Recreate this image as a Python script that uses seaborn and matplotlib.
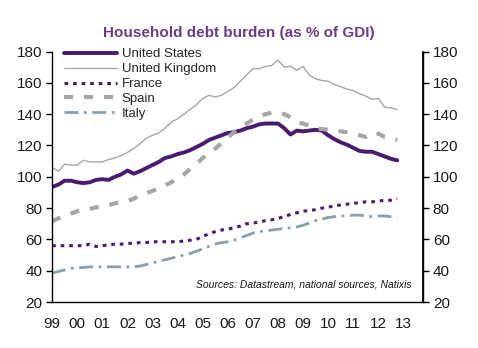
import numpy as np
import pandas as pd
import matplotlib
matplotlib.use("Agg")
import matplotlib.pyplot as plt
import seaborn as sns

title = "Household debt burden (as % of GDI)"
source = "Sources: Datastream, national sources, Natixis"
series_names = ["United States", "United Kingdom", "France", "Spain", "Italy"]
year_ticks = list(range(1999, 2014))
year_labels = ["99", "00", "01", "02", "03", "04", "05", "06", "07", "08", "09", "10", "11", "12", "13"]
y_ticks = [20, 40, 60, 80, 100, 120, 140, 160, 180]

# quarterly, 1999Q1 .. 2012Q4
quarters = [1999 + q / 4 for q in range(56)]

us = [93.5, 95, 97.5, 97.5, 96.5, 96, 96.5, 98, 98.5, 98, 100, 101.5,
      104, 102, 103.5, 105.5, 107.5, 109.5, 112, 113, 114.5, 115.5, 117, 119,
      121, 123.5, 125, 126.5, 128, 128.5, 129.5, 131, 132, 133.5, 134, 134,
      134, 131, 127, 129.5, 129, 129.5, 130, 129.5, 126.5, 124, 122, 120.5,
      118.5, 116.5, 116, 116, 114.5, 113, 111.5, 110.5]
uk = [106, 103.5, 108, 107.5, 107.5, 110.5, 109.5, 109.5, 109.5, 111, 112, 113.5,
      115.5, 118, 121, 124.5, 126.5, 128, 131, 135, 137, 140, 143, 146,
      150, 152, 151, 152, 154.5, 157, 161, 165, 169, 169, 170.5, 171,
      174.5, 170, 170.5, 168, 170.5, 165, 162.5, 161.5, 161, 159, 157.5, 156,
      155, 153, 151.5, 149.5, 150, 144.5, 144, 143]
france = [56, 56, 56, 56, 56, 56, 57, 55.5, 56, 56.5, 57, 57,
          57.5, 57.5, 58, 58, 58.5, 58.5, 58.5, 58.5, 58.5, 59, 59.5, 60,
          62, 63.5, 65, 66, 66.5, 67.5, 68.5, 70, 70.5, 71, 72, 72.5,
          73.5, 74.5, 76, 77, 78, 78.5, 79, 80, 80.5, 81.5, 82, 82.5,
          83, 83.5, 84, 84, 84.5, 85, 85, 86]
spain = [71.5, 73.5, 75, 76.5, 78, 79, 79.5, 80.5, 81, 82, 83, 84,
         84.5, 86, 88, 89.5, 91, 92.5, 94.5, 96.5, 99, 101.5, 105, 108,
         112, 115, 118, 121.5, 125, 128.5, 131.5, 134, 136.5, 138.5, 140, 141,
         141, 140, 138, 135, 134, 132.5, 131, 130.5, 130, 129.5, 129, 128.5,
         128, 126.5, 125.5, 128, 127.5, 125.5, 125, 123.5]
italy = [38.5, 39.5, 40.5, 41.5, 42, 42, 42.5, 42.5, 42.5, 42.5, 42.5, 42.5,
         42.5, 42.5, 43, 44, 45, 46, 47, 48, 49, 50, 51, 52.5,
         54, 55.5, 57, 58, 58.5, 59.5, 61, 62.5, 64, 65, 65.5, 66,
         66.5, 67, 67.5, 68, 69, 70.5, 72, 73, 74, 74.5, 75, 75,
         75.5, 75.5, 75, 74.5, 75, 75, 74.5, 74.5]

values = [us, uk, france, spain, italy]
df = pd.DataFrame({
    "t": np.tile(quarters, len(series_names)),
    "v": np.concatenate(values),
    "country": np.repeat(series_names, len(quarters)),
})

sns.set_theme(style="white")
plt.rcParams["font.family"] = ["Liberation Sans", "DejaVu Sans"]

purple = "#4a1a6e"
grey = "#a6a6a6"
italy_c = "#8a9eac"
styles = {
    "United States": dict(color=purple, lw=2.8, ls="-"),
    "United Kingdom": dict(color=grey, lw=1.0, ls="-"),
    "France": dict(color=purple, lw=2.2, ls=(0, (1.2, 1.6))),
    "Spain": dict(color=grey, lw=3.0, ls=(0, (2.2, 2.6))),
    "Italy": dict(color=italy_c, lw=2.0, ls=(0, (5, 2, 1, 2))),
}

fig = plt.figure(figsize=(4.78, 3.48), dpi=100)
ax = fig.add_axes([0.109, 0.132, 0.776, 0.720])
for name in series_names:
    st = styles[name]
    sns.lineplot(data=df[df.country == name], x="t", y="v", ax=ax,
                 color=st["color"], linewidth=st["lw"], linestyle=st["ls"],
                 label=name)

ax.set_xlim(1999, 2013.78)
ax.set_ylim(20, 180)
ax.set_yticks(y_ticks)
ax.set_xticks(year_ticks)
ax.set_xticklabels(year_labels)
ax.set_xlabel("")
ax.set_ylabel("")
ax.spines["top"].set_visible(False)
for s in ["left", "right", "bottom"]:
    ax.spines[s].set_color("black")
    ax.spines[s].set_linewidth(1.0)
ax.tick_params(axis="both", which="both", direction="out", length=4, width=1,
               color="black", labelsize=11, labelcolor="#1a1a1a")
ax.tick_params(axis="x", pad=7)
ax.tick_params(axis="y", left=True, pad=3)

ax2 = ax.twinx()
ax2.set_ylim(20, 180)
ax2.set_yticks(y_ticks)
ax2.spines["top"].set_visible(False)
ax2.spines["left"].set_visible(False)
ax2.spines["bottom"].set_visible(False)
ax2.spines["right"].set_color("black")
ax2.tick_params(axis="y", direction="out", length=4, width=1, color="black",
                labelsize=11, labelcolor="#1a1a1a", right=True, pad=3)
ax2.grid(False)
ax.grid(False)

leg = ax.legend(loc="upper left", bbox_to_anchor=(0.012, 1.045), frameon=False,
                fontsize=9.5, handlelength=4.0, handletextpad=0.35,
                labelspacing=0.2, borderaxespad=0.2)

fig.text(0.5, 0.905, title, ha="center", va="center", fontsize=11,
         fontweight="bold", color="#6a3d8a")
ax.text(0.97, 0.05, source, transform=ax.transAxes, ha="right", va="bottom",
        fontsize=7.5, style="italic", color="#1a1a1a")

fig.savefig("out.png", dpi=100, facecolor="white")
